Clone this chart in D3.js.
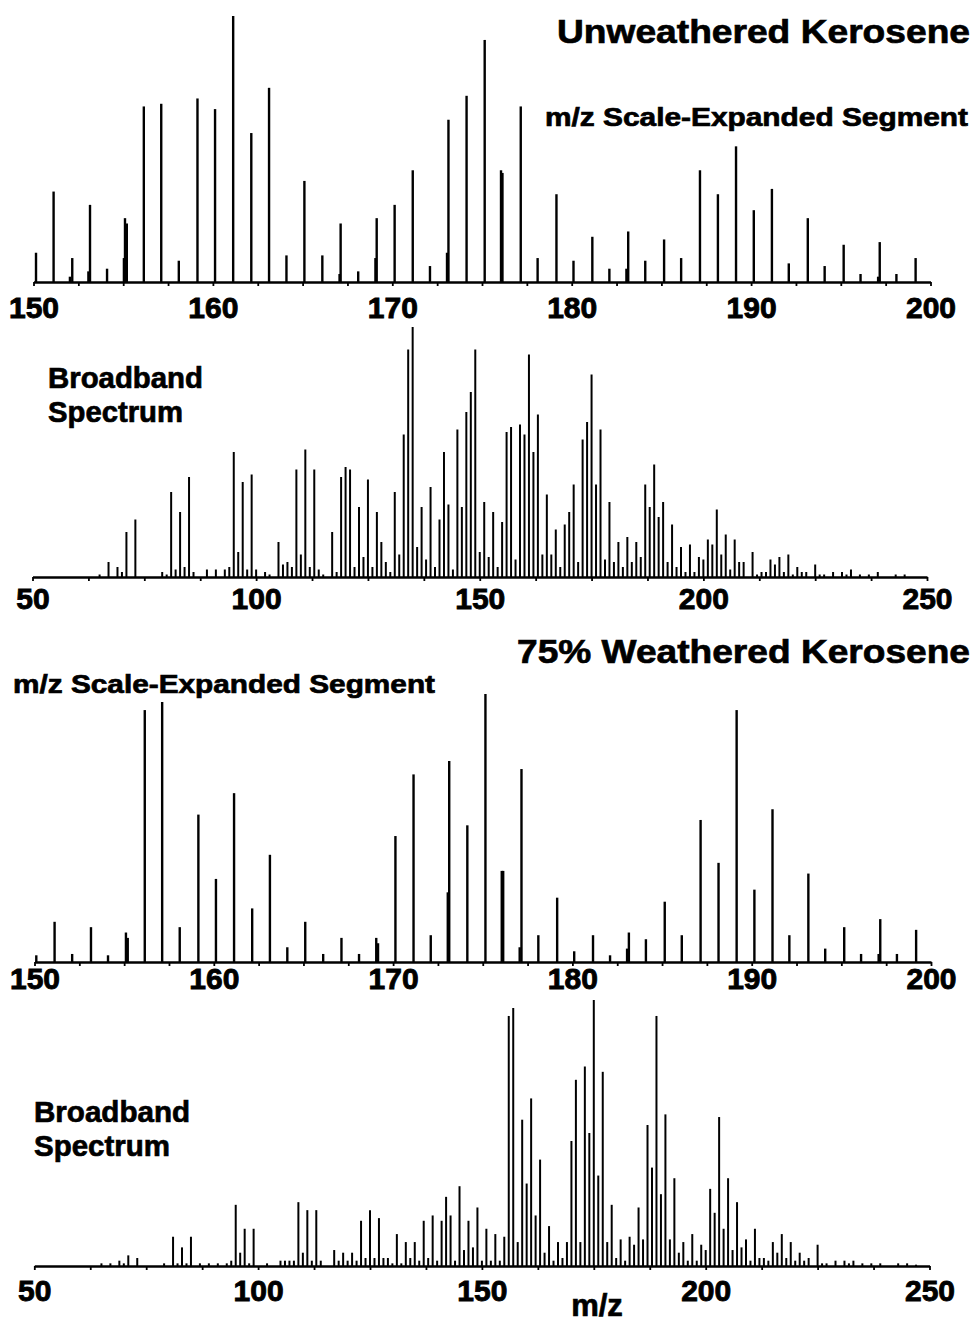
<!DOCTYPE html>
<html>
<head>
<meta charset="utf-8">
<script src="https://cdn.jsdelivr.net/npm/d3@7"></script>
<style>
  body { margin: 0; background: #fff; }
  svg text { font-family: "Liberation Sans", Arial, Helvetica, sans-serif; font-weight: bold; fill: #000; stroke: #000; stroke-width: 0.7px; }
</style>
</head>
<body>
<script>
// expanded segment, unweathered: [m/z, relative intensity %]
const expUnweathered = [
  [150.14,11],[151.12,34],[152.03,2],[152.16,9],[153.06,4],[153.15,29],[154.1,5],
  [155.04,9],[155.1,24],[155.2,22],[156.15,66],[157.12,67],[158.1,8],[159.14,69],
  [160.12,65],[161.13,100],[162.14,56],[163.13,73],[164.1,10],[165.1,38],[166.1,10],
  [167.06,3],[167.12,22],[168.1,4],[169.06,9],[169.13,24],[170.13,29],[171.14,42],
  [172.1,6],[173.05,11],[173.13,61],[174.14,70],[175.15,91],[176.06,42],[176.14,41],
  [177.16,66],[178.1,9],[179.15,33],[180.1,8],[181.15,17],[182.1,5],[183.05,5],
  [183.15,19],[184.1,8],[185.15,16],[186.1,9],[187.15,42],[188.15,33],[189.16,51],
  [190.15,27],[191.16,35],[192.1,7],[193.16,24],[194.1,6],[195.16,14],[196.1,3],
  [197.08,2],[197.17,15],[198.1,3],[199.17,9]
];

// expanded segment, 75% weathered
const expWeathered = [
  [150.1,2.5],[151.12,15],[152.1,3],[153.15,13],[154.1,2.5],[155.1,11],[155.2,9],
  [156.15,94],[157.12,97],[158.1,13],[159.14,55],[160.12,31],[161.13,63],[162.14,20],
  [163.13,40],[164.1,5.5],[165.1,15],[166.1,3],[167.12,9],[168.1,3],[169.06,9],
  [169.16,7],[170.13,47],[171.14,70],[172.1,10],[173.05,26],[173.13,75],[174.14,51],
  [175.15,100],[176.06,34],[176.14,34],[177.06,5.5],[177.16,72],[178.1,10],[179.15,24],
  [180.1,4],[181.15,10],[182.1,2.5],[183.05,5],[183.15,11],[184.1,8.5],[185.15,22.5],
  [186.1,10],[187.15,53],[188.15,37],[189.16,94],[190.15,27],[191.16,57],[192.1,10],
  [193.16,33],[194.1,5],[195.16,13],[196.1,3],[197.08,3],[197.17,16],[198.1,3],[199.17,12]
];

// broadband spectrum, unweathered
const bbUnweathered = [
  [65,1],[67,6],[69,4],[70,2],[71,18],[73,23],[79,2],[80,1],[81,34],[82,3],[83,26],[84,4],
  [85,40],[86,2],[89,3],[91,3],[93,3],[94,4],[95,50],[96,10],[97,38],[98,3],[99,41],[100,3],
  [102,2],[103,1],[105,14],[106,5],[107,6],[108,4],[109,43],[110,9],[111,51],[112,4],[113,43],
  [114,3],[115,1],[117,18],[118,2],[119,40],[120,44],[121,43],[122,4],[123,28],[124,8],[125,39],
  [126,4],[127,26],[128,14],[129,6],[130,2],[131,34],[132,9],[133,57],[134,91],[135,100],
  [136,12],[137,28],[138,7],[139,36],[140,4],[141,23],[142,50],[143,29],[144,3],[145,59],
  [146,28],[147,66],[148,74],[149,91],[150,10],[151,30],[152,8],[153,26],[154,4],[155,22],
  [156,58],[157,60],[158,7],[159,61],[160,57],[161,89],[162,50],[163,65],[164,9],[165,33],
  [166,9],[167,19],[168,4],[169,21],[170,26],[171,37],[172,6],[173,55],[174,62],[175,81],
  [176,37],[177,59],[178,7],[179,30],[180,6],[181,14],[182,4],[183,16],[184,6],[185,14],
  [186,8],[187,37],[188,28],[189,45],[190,24],[191,30],[192,6],[193,21],[194,4],[195,12],
  [196,2],[197,13],[198,2],[199,8],[200,7],[201,15],[202,13],[203,27],[204,9],[205,17],
  [206,3],[207,15],[208,6],[209,6],[211,10],[212,1],[213,2],[214,2],[215,7],[216,5],[217,8],
  [218,2],[219,9],[220,1],[221,4],[222,2],[223,2],[225,5],[226,1],[227,1],[229,2],[231,2],
  [232,1],[233,3],[235,1],[237,1],[239,2],[243,1],[245,1]
];

// broadband spectrum, 75% weathered
const bbWeathered = [
  [65,1],[67,1],[69,2],[70,1],[71,4],[73,3],[79,1],[81,11],[82,1],[83,7],[84,1],[85,11],
  [87,1],[89,1],[91,1],[93,1],[94,2],[95,23],[96,5],[97,14],[98,1],[99,14],[102,1],[105,2],
  [106,2],[107,2],[108,2],[109,24],[110,5],[111,21],[112,2],[113,21],[114,2],[117,6],[118,2],
  [119,5],[120,2],[121,5],[122,2],[123,17],[124,3],[125,21],[126,3],[127,18],[128,3],[129,3],
  [130,1],[131,12],[132,1],[133,9],[134,3],[135,9],[136,2],[137,17],[138,3],[139,19],[140,2],
  [141,17],[142,26],[143,19],[144,2],[145,30],[146,6],[147,17],[148,7],[149,22],[150,2],
  [151,14],[152,2],[153,12],[154,2],[155,11],[156,94],[157,97],[158,9],[159,55],[160,31],
  [161,63],[162,19],[163,40],[164,5],[165,15],[166,2],[167,9],[168,3],[169,9],[170,47],
  [171,70],[172,9],[173,75],[174,50],[175,100],[176,34],[177,73],[178,9],[179,23],[180,3],
  [181,10],[182,2],[183,11],[184,8],[185,22],[186,10],[187,53],[188,37],[189,94],[190,27],
  [191,57],[192,10],[193,33],[194,5],[195,9],[196,2],[197,12],[198,2],[199,8],[200,6],
  [201,29],[202,20],[203,56],[204,14],[205,33],[206,6],[207,24],[208,7],[209,10],[210,2],
  [211,14],[212,3],[213,3],[214,2],[215,9],[216,5],[217,12],[218,3],[219,9],[220,2],[221,5],
  [222,2],[223,3],[225,8],[226,1],[227,1],[229,2],[231,2],[232,1],[233,2],[235,1],[237,1],
  [239,1],[243,1],[245,1],[247,0.5]
];

// tick labels
const expTicks = [150, 160, 170, 180, 190, 200];
const bbTicks = [50, 100, 150, 200, 250];

const width = 976, height = 1322;

const svg = d3.select("body").append("svg")
  .attr("width", width)
  .attr("height", height);

svg.append("rect").attr("width", width).attr("height", height).attr("fill", "#fff");

function panel(opts) {
  const x = d3.scaleLinear().domain(opts.domain).range(opts.range);
  const y = d3.scaleLinear().domain([0, 100]).range([opts.base, opts.base - opts.full]);

  const g = svg.append("g");

  g.selectAll("line.peak")
    .data(opts.data)
    .enter()
    .append("line")
    .attr("class", "peak")
    .attr("x1", d => x(d[0]))
    .attr("x2", d => x(d[0]))
    .attr("y1", y(0))
    .attr("y2", d => y(d[1]))
    .attr("stroke", "#000")
    .attr("stroke-width", opts.sw);

  const minor = d3.range(opts.domain[0], opts.domain[1] + 0.01, opts.step);
  const axis = d3.axisBottom(x)
    .tickValues(minor)
    .tickSize(4)
    .tickSizeOuter(0)
    .tickPadding(opts.pad)
    .tickFormat(d => opts.ticks.includes(d) ? d : "");

  const ax = g.append("g")
    .attr("transform", `translate(0,${opts.base})`)
    .call(axis);
  ax.select(".domain").attr("stroke", "#000").attr("stroke-width", 2.6);
  ax.selectAll(".tick line").attr("stroke", "#000").attr("stroke-width", 1.8);
  ax.selectAll(".tick text")
    .attr("fill", "#000")
    .style("font-size", "30px")
    .style("font-weight", "bold")
    .style("stroke", "#000")
    .style("stroke-width", "0.9px")
    .style("font-family", '"Liberation Sans", Arial, sans-serif');
}

panel({ data: expUnweathered, domain: [150, 200], range: [33.5, 930.5], base: 282, full: 266,
        sw: 2.4, step: 2.5, ticks: expTicks, pad: 11 });
panel({ data: bbUnweathered, domain: [50, 250], range: [32.5, 927], base: 577, full: 250,
        sw: 2, step: 12.5, ticks: bbTicks, pad: 7 });
panel({ data: expWeathered, domain: [150, 200], range: [34.5, 931], base: 962, full: 268,
        sw: 2.4, step: 2.5, ticks: expTicks, pad: 2 });
panel({ data: bbWeathered, domain: [50, 250], range: [34.3, 929.5], base: 1266, full: 266,
        sw: 2, step: 12.5, ticks: bbTicks, pad: 10 });

// labels
function label(txt, x, y, size, len, anchor) {
  svg.append("text")
    .attr("x", x).attr("y", y)
    .attr("text-anchor", anchor || "start")
    .attr("textLength", len)
    .attr("lengthAdjust", "spacingAndGlyphs")
    .style("font-size", size + "px")
    .text(txt);
}

label("Unweathered Kerosene", 970, 43, 34, 413, "end");
label("m/z Scale-Expanded Segment", 968, 126, 26, 423, "end");
label("Broadband", 48, 388, 29, 155);
label("Spectrum", 48, 422, 29, 135);
label("75% Weathered Kerosene", 970, 663, 34, 453, "end");
label("m/z Scale-Expanded Segment", 13, 693, 26, 422);
label("Broadband", 34, 1122, 29, 156);
label("Spectrum", 34, 1156, 29, 136);

svg.append("text")
  .attr("x", 597).attr("y", 1316)
  .attr("text-anchor", "middle")
  .style("font-size", "31px")
  .text("m/z");
</script>
</body>
</html>
